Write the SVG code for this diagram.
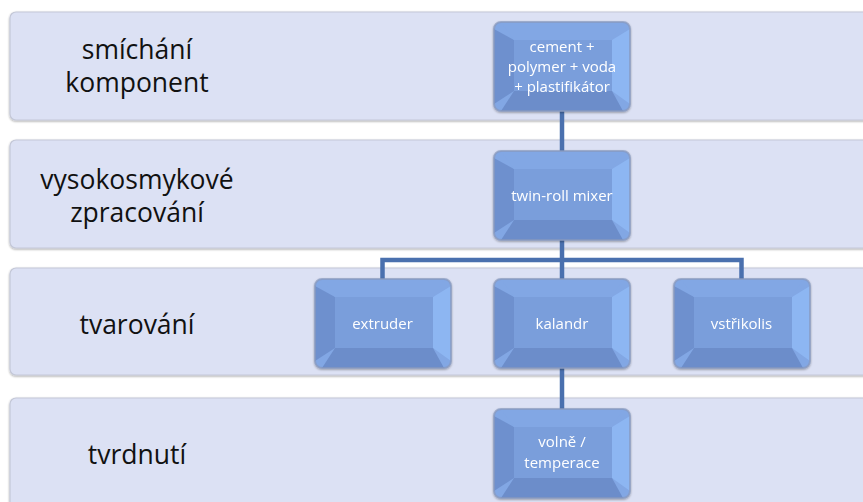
<svg xmlns="http://www.w3.org/2000/svg" width="863" height="502" viewBox="0 0 863 502">
<defs>
<style>
.band{fill:#dce1f4;stroke:#c4c8d8;stroke-width:1.2}
.lbl{font-family:"Open Sans","Liberation Sans",sans-serif;font-size:26.5px;fill:#111;text-anchor:middle}
.nt{font-family:"Open Sans","Liberation Sans",sans-serif;font-size:15px;fill:#fff;text-anchor:middle}
.face{fill:#7a9edb}
.bt{fill:#82a7e4}
.bl{fill:#6e90ce}
.br{fill:#8db6f2}
.bb{fill:#6c8dca}
.edge{fill:none;stroke:#8898bd;stroke-width:2;stroke-opacity:0.7}
.conn{fill:none;stroke:#4a70ae;stroke-width:4.5}
</style>
<filter id="sh" x="-10%" y="-10%" width="120%" height="120%">
<feGaussianBlur in="SourceAlpha" stdDeviation="1.2"/>
<feOffset dx="0" dy="0.5"/>
<feComponentTransfer><feFuncA type="linear" slope="0.35"/></feComponentTransfer>
<feMerge><feMergeNode/><feMergeNode in="SourceGraphic"/></feMerge>
</filter>
<g id="bevel">
<rect x="0" y="0" width="136" height="89" rx="7" class="bt"/>
<polygon points="0,7 0,82 20,69 20,18" class="bl"/>
<polygon points="136,7 136,82 118,69 118,18" class="br"/>
<polygon points="7,89 129,89 118,69 20,69" class="bb"/>
<polygon points="7,0 129,0 118,18 20,18" class="bt"/>
<rect x="20" y="18" width="98" height="51" class="face"/>
<rect x="0" y="0" width="136" height="89" rx="7" class="edge"/>
</g>
</defs>
<rect width="863" height="502" fill="#ffffff"/>
<g id="bands">
<g id="band1"><rect class="band" x="10" y="12" width="870" height="108" rx="6" filter="url(#sh)"/>
<text class="lbl" x="137" y="59">smíchání</text><text class="lbl" x="137" y="92">komponent</text></g>
<g id="band2"><rect class="band" x="10" y="140" width="870" height="108" rx="6" filter="url(#sh)"/>
<text class="lbl" x="137" y="189">vysokosmykové</text><text class="lbl" x="137" y="222">zpracování</text></g>
<g id="band3"><rect class="band" x="10" y="268" width="870" height="107" rx="6" filter="url(#sh)"/>
<text class="lbl" x="137" y="334">tvarování</text></g>
<g id="band4"><rect class="band" x="10" y="398" width="870" height="110" rx="6" filter="url(#sh)"/>
<text class="lbl" x="137" y="464">tvrdnutí</text></g>
</g>
<g id="connectors">
<line class="conn" x1="562" y1="108" x2="562" y2="154"/>
<polyline class="conn" points="382.5,281 382.5,260 741.5,260 741.5,281"/>
<line class="conn" x1="562" y1="238" x2="562" y2="281"/>
<line class="conn" x1="562" y1="366" x2="562" y2="410"/>
</g>
<g id="n1" filter="url(#sh)"><use href="#bevel" x="494" y="22"/>
<text class="nt" x="562" y="52">cement +</text><text class="nt" x="562" y="72">polymer + voda</text><text class="nt" x="562" y="92">+ plastifikátor</text></g>
<g id="n2" filter="url(#sh)"><use href="#bevel" x="494" y="151"/>
<text class="nt" x="562" y="201">twin-roll mixer</text></g>
<g id="n3" filter="url(#sh)"><use href="#bevel" x="315" y="279"/>
<text class="nt" x="382.5" y="329">extruder</text></g>
<g id="n4" filter="url(#sh)"><use href="#bevel" x="494" y="279"/>
<text class="nt" x="562" y="329">kalandr</text></g>
<g id="n5" filter="url(#sh)"><use href="#bevel" x="674" y="279"/>
<text class="nt" x="741.5" y="329">vstřikolis</text></g>
<g id="n6" filter="url(#sh)"><use href="#bevel" x="494" y="409"/>
<text class="nt" x="562" y="447">volně /</text><text class="nt" x="562" y="468">temperace</text></g>
</svg>
